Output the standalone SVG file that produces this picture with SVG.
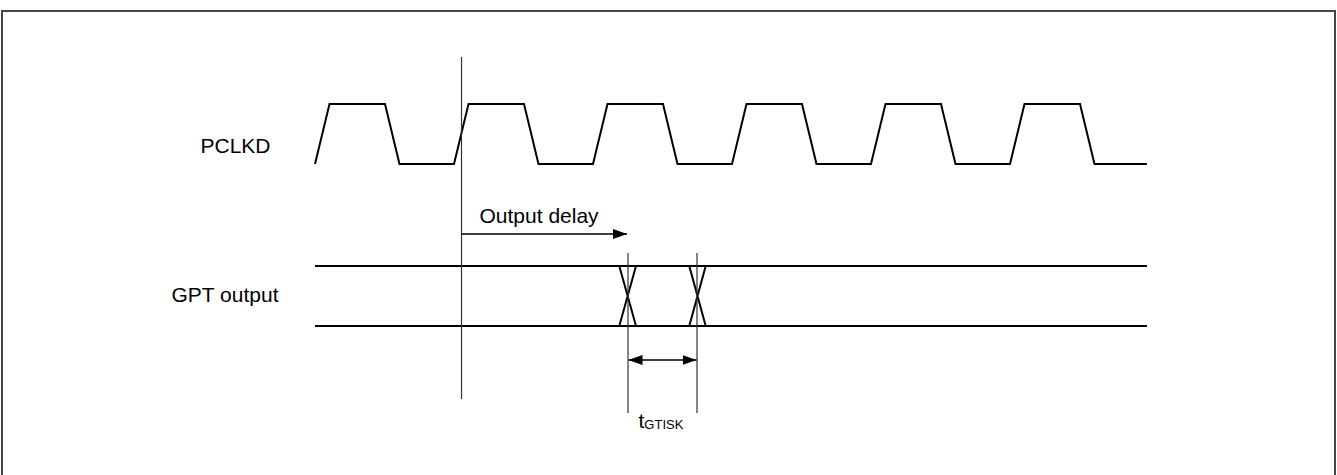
<svg xmlns="http://www.w3.org/2000/svg" width="1337" height="475" viewBox="0 0 1337 475">
<style>
.t{font-family:"Liberation Sans",Arial,sans-serif;font-size:21px;fill:#000}
.wave{fill:none;stroke:#000;stroke-width:2;stroke-linejoin:miter}
.guide{stroke:#333;stroke-width:1.2;fill:none}
.arr{stroke:#000;stroke-width:1.3;fill:none}
</style>
<defs>
<marker id="ah" viewBox="0 0 14 10" refX="14" refY="5" markerWidth="14" markerHeight="10" markerUnits="userSpaceOnUse" orient="auto-start-reverse">
<path d="M0,0 L14,5 L0,10 Z" fill="#000"/>
</marker>
</defs>
<rect width="1337" height="475" fill="#fff"/>
<rect id="frame" x="2" y="11" width="1333" height="465" fill="none" stroke="#444" stroke-width="2"/>
<g id="pclkd">
<text class="t" x="200.5" y="152.7">PCLKD</text>
<polyline class="wave" points="315,164 329.5,104 385,104 399.5,164 454,164 468.5,104 524,104 538.5,164 593,164 607.5,104 663,104 677.5,164 732,164 746.5,104 802,104 816.5,164 871,164 885.5,104 941,104 955.5,164 1010,164 1024.5,104 1080,104 1094.5,164 1147,164"/>
</g>
<g id="gpt-output">
<text class="t" x="171.5" y="302.3">GPT output</text>
<line class="wave" x1="315" y1="266" x2="1147" y2="266"/>
<line class="wave" x1="315" y1="326" x2="1147" y2="326"/>
<path class="wave" stroke-width="1.6" d="M619.3,266 L636,326 M636,266 L619.3,326 M689.3,266 L705.7,326 M705.7,266 L689.3,326"/>
</g>
<g id="connectors">
<line class="guide" x1="461.5" y1="57" x2="461.5" y2="399"/>
<line class="guide" x1="628" y1="253" x2="628" y2="413"/>
<line class="guide" x1="697" y1="253" x2="697" y2="413"/>
<line class="arr" x1="461.5" y1="234" x2="627" y2="234" marker-end="url(#ah)"/>
<line class="arr" x1="628.5" y1="360" x2="696.5" y2="360" marker-start="url(#ah)" marker-end="url(#ah)"/>
</g>
<g id="labels">
<text class="t" x="479.5" y="223">Output delay</text>
<text class="t" x="638.5" y="427.5">t<tspan font-size="13" dy="1">GTISK</tspan></text>
</g>
</svg>
